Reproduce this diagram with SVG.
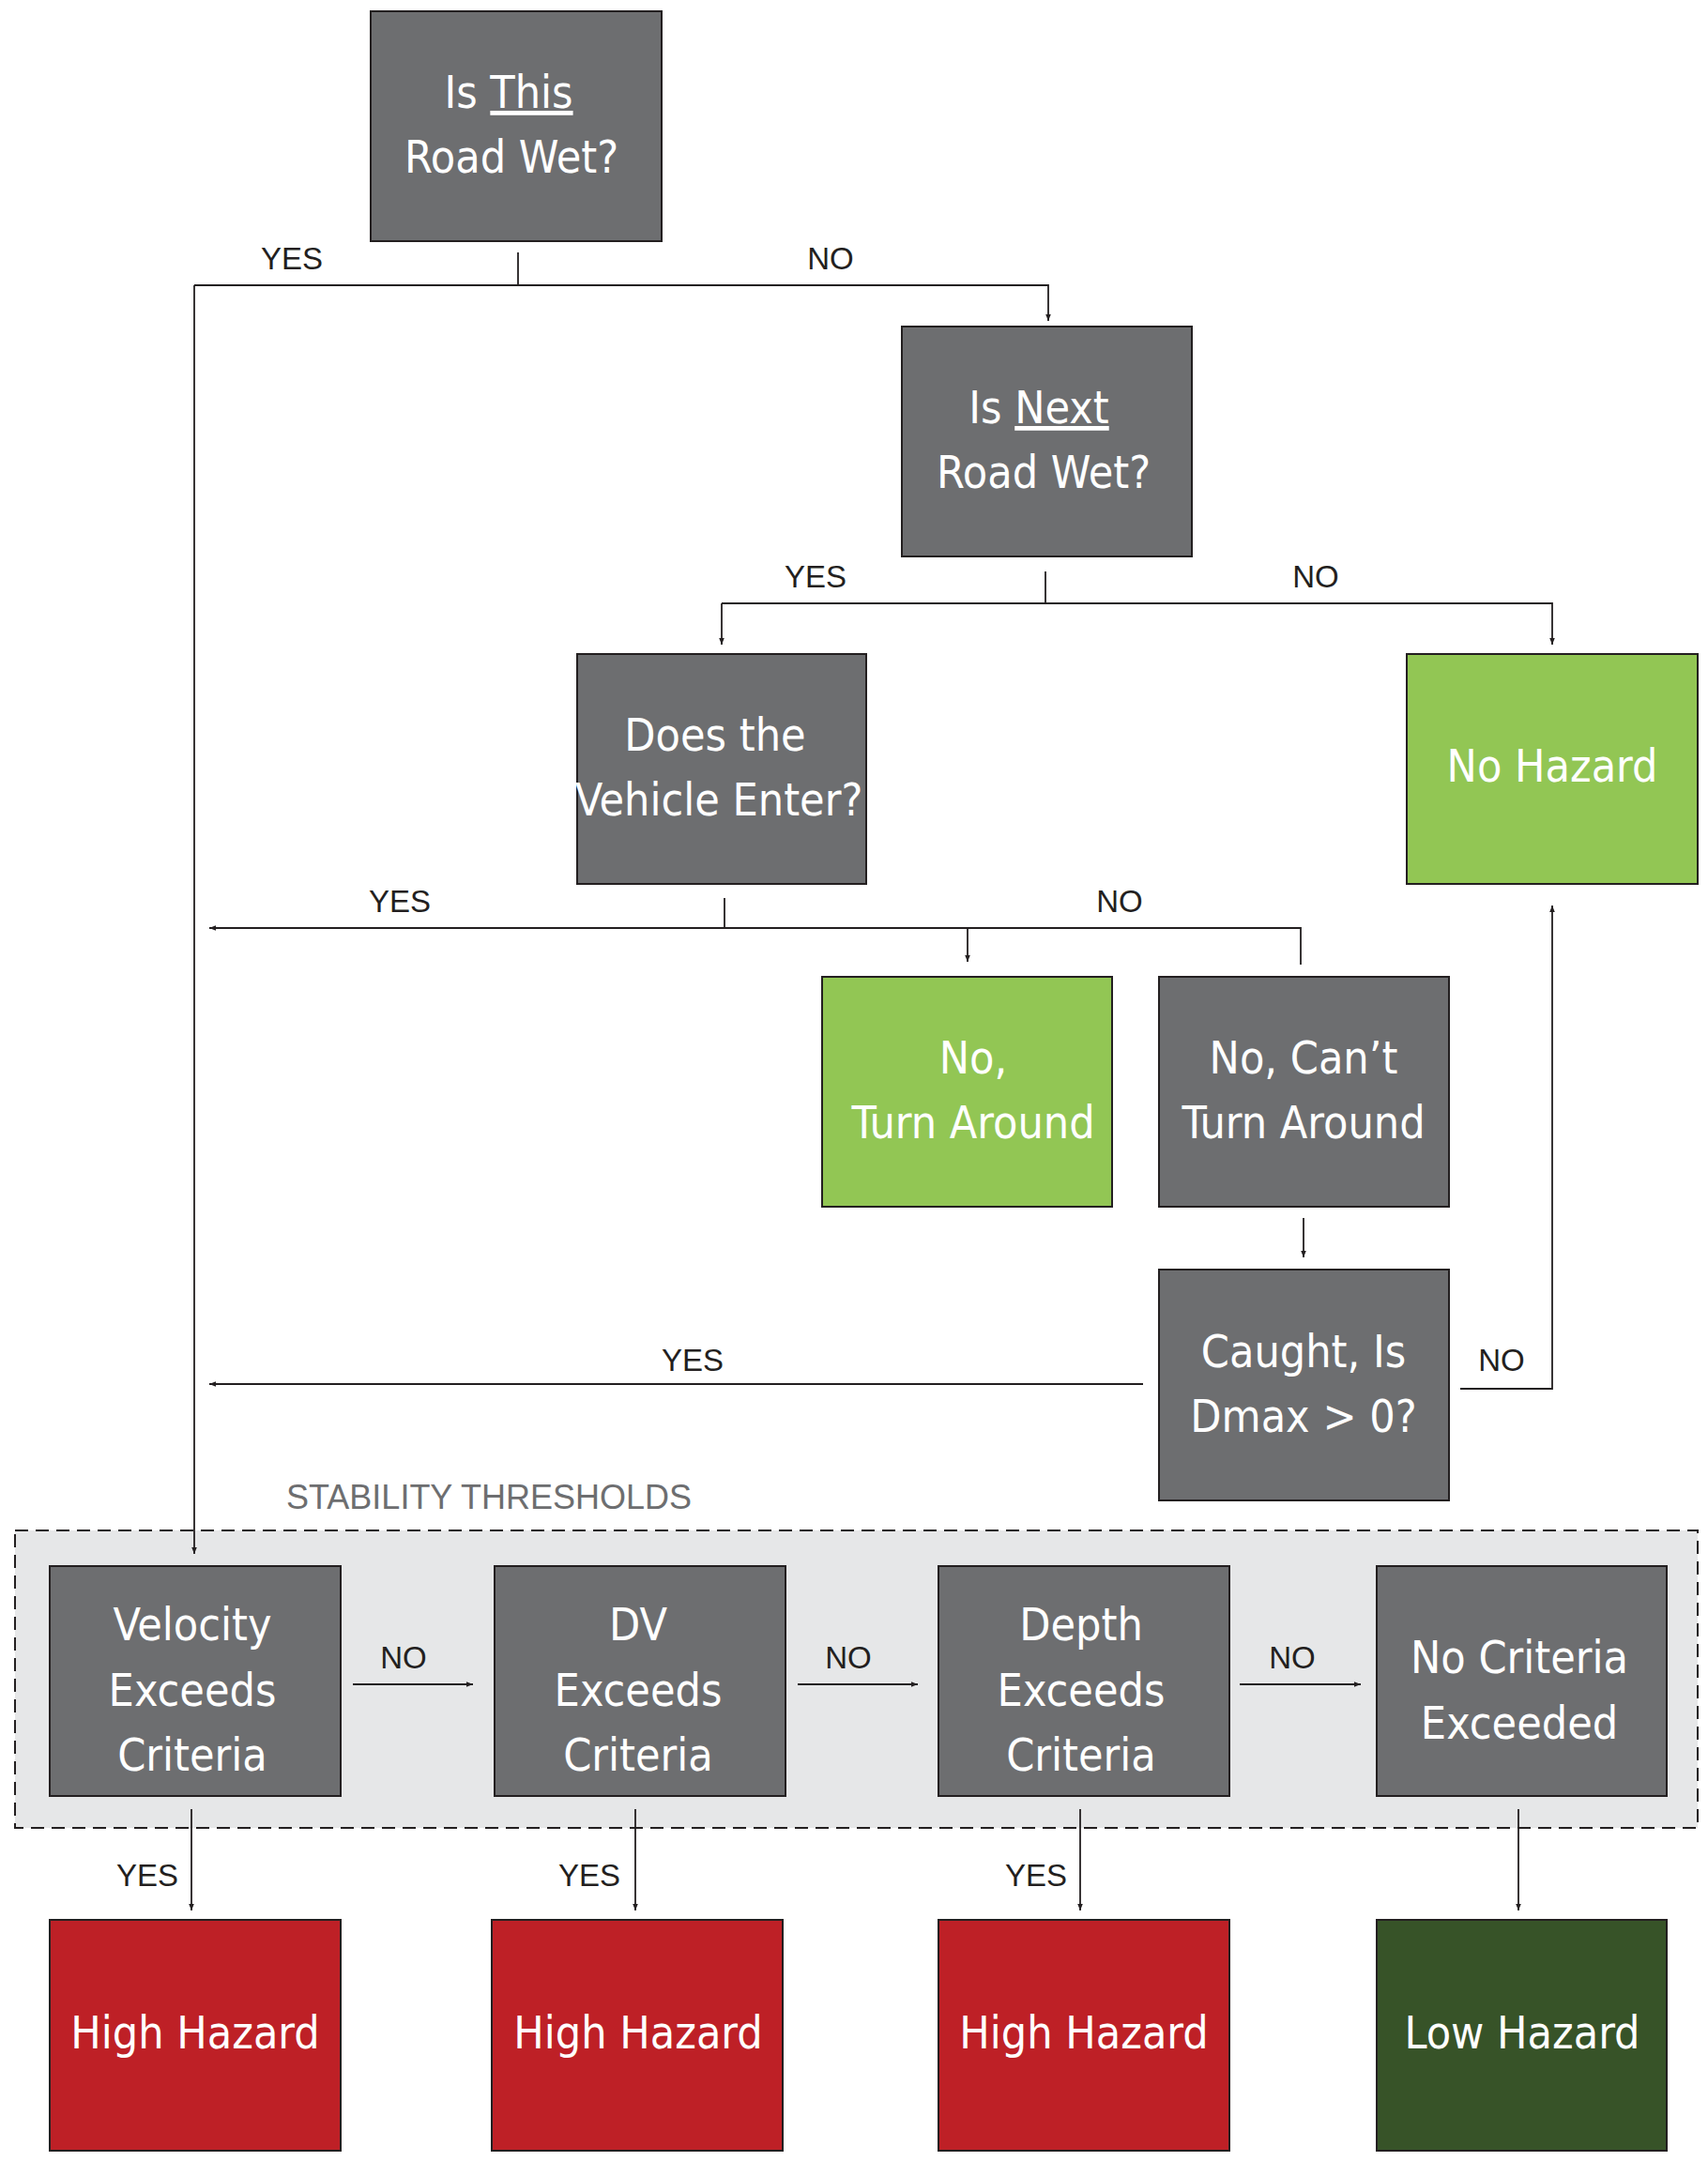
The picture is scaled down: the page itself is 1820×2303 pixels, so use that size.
<svg xmlns="http://www.w3.org/2000/svg" width="1820" height="2303" viewBox="0 0 1820 2303">
<style>
.g{fill:#6d6e70;stroke:#231f20;stroke-width:2}
.lg{fill:#92c654;stroke:#231f20;stroke-width:2}
.r{fill:#be2026;stroke:#231f20;stroke-width:2}
.dg{fill:#375328;stroke:#231f20;stroke-width:2}
.t{fill:#fff;font-family:"DejaVu Sans Condensed","Liberation Sans Narrow","Liberation Sans",sans-serif;font-size:48px;text-anchor:middle}
.l{fill:#231f20;font-family:"Liberation Sans",sans-serif;font-size:33px;text-anchor:middle}
.c{fill:none;stroke:#231f20;stroke-width:1.8}
</style>
<defs><marker id="a" viewBox="0 0 10 10" refX="10" refY="5" markerWidth="7" markerHeight="7" orient="auto" markerUnits="userSpaceOnUse"><path d="M0,1 L10,5 L0,9z" fill="#231f20"/></marker></defs>
<rect x="16" y="1631" width="1793" height="317" fill="#e6e7e8" stroke="#231f20" stroke-width="2" stroke-dasharray="14,8"/>
<text x="305" y="1608" style="fill:#6d6e70;font-family:'Liberation Sans',sans-serif;font-size:36px">STABILITY THRESHOLDS</text>
<g id="connectors">
<path class="c" d="M552,269V304M207,304H1117V342" marker-end="url(#a)"/>
<path class="c" d="M207,304V1656" marker-end="url(#a)"/>
<path class="c" d="M1114,609V643M769,643H1654V687" marker-end="url(#a)"/>
<path class="c" d="M769,643V687" marker-end="url(#a)"/>
<path class="c" d="M772,957V989M1386,1028V989H223" marker-end="url(#a)"/>
<path class="c" d="M1031,989V1025" marker-end="url(#a)"/>
<path class="c" d="M1389,1298V1340" marker-end="url(#a)"/>
<path class="c" d="M1218,1475H223" marker-end="url(#a)"/>
<path class="c" d="M1556,1480H1654V965" marker-end="url(#a)"/>
<path class="c" d="M376,1795H504" marker-end="url(#a)"/>
<path class="c" d="M850,1795H978" marker-end="url(#a)"/>
<path class="c" d="M1321,1795H1450" marker-end="url(#a)"/>
<path class="c" d="M204,1928V2036" marker-end="url(#a)"/>
<path class="c" d="M677,1928V2036" marker-end="url(#a)"/>
<path class="c" d="M1151,1928V2036" marker-end="url(#a)"/>
<path class="c" d="M1618,1928V2036" marker-end="url(#a)"/>
<text class="l" x="311" y="287">YES</text><text class="l" x="885" y="287">NO</text>
<text class="l" x="869" y="626">YES</text><text class="l" x="1402" y="626">NO</text>
<text class="l" x="426" y="972">YES</text><text class="l" x="1193" y="972">NO</text>
<text class="l" x="738" y="1461">YES</text><text class="l" x="1600" y="1461">NO</text>
<text class="l" x="430" y="1778">NO</text><text class="l" x="904" y="1778">NO</text><text class="l" x="1377" y="1778">NO</text>
<text class="l" x="157" y="2010">YES</text><text class="l" x="628" y="2010">YES</text><text class="l" x="1104" y="2010">YES</text>
</g>
<g id="n1"><rect class="g" x="395" y="12" width="310" height="245"/><text class="t" x="542" y="115">Is <tspan text-decoration="underline">This</tspan></text><text class="t" x="545" y="184">Road Wet?</text></g>
<g id="n2"><rect class="g" x="961" y="348" width="309" height="245"/><text class="t" x="1107" y="451">Is <tspan text-decoration="underline">Next</tspan></text><text class="t" x="1112" y="520">Road Wet?</text></g>
<g id="n3"><rect class="g" x="615" y="697" width="308" height="245"/><text class="t" x="762" y="800">Does the</text><text class="t" x="766" y="869">Vehicle Enter?</text></g>
<g id="n4"><rect class="lg" x="1499" y="697" width="310" height="245"/><text class="t" x="1654" y="833">No Hazard</text></g>
<g id="n5"><rect class="lg" x="876" y="1041" width="309" height="245"/><text class="t" x="1037" y="1144">No,</text><text class="t" x="1037" y="1213">Turn Around</text></g>
<g id="n6"><rect class="g" x="1235" y="1041" width="309" height="245"/><text class="t" x="1389" y="1144">No, Can’t</text><text class="t" x="1389" y="1213">Turn Around</text></g>
<g id="n7"><rect class="g" x="1235" y="1353" width="309" height="246"/><text class="t" x="1389" y="1457">Caught, Is</text><text class="t" x="1389" y="1526">Dmax &gt; 0?</text></g>
<g id="n8"><rect class="g" x="53" y="1669" width="310" height="245"/><text class="t" x="205" y="1748">Velocity</text><text class="t" x="205" y="1818">Exceeds</text><text class="t" x="205" y="1887">Criteria</text></g>
<g id="n9"><rect class="g" x="527" y="1669" width="310" height="245"/><text class="t" x="680" y="1748">DV</text><text class="t" x="680" y="1818">Exceeds</text><text class="t" x="680" y="1887">Criteria</text></g>
<g id="n10"><rect class="g" x="1000" y="1669" width="310" height="245"/><text class="t" x="1152" y="1748">Depth</text><text class="t" x="1152" y="1818">Exceeds</text><text class="t" x="1152" y="1887">Criteria</text></g>
<g id="n11"><rect class="g" x="1467" y="1669" width="309" height="245"/><text class="t" x="1619" y="1783">No Criteria</text><text class="t" x="1619" y="1853">Exceeded</text></g>
<g id="n12"><rect class="r" x="53" y="2046" width="310" height="246"/><text class="t" x="208" y="2183">High Hazard</text></g>
<g id="n13"><rect class="r" x="524" y="2046" width="310" height="246"/><text class="t" x="680" y="2183">High Hazard</text></g>
<g id="n14"><rect class="r" x="1000" y="2046" width="310" height="246"/><text class="t" x="1155" y="2183">High Hazard</text></g>
<g id="n15"><rect class="dg" x="1467" y="2046" width="309" height="246"/><text class="t" x="1622" y="2183">Low Hazard</text></g>
</svg>
